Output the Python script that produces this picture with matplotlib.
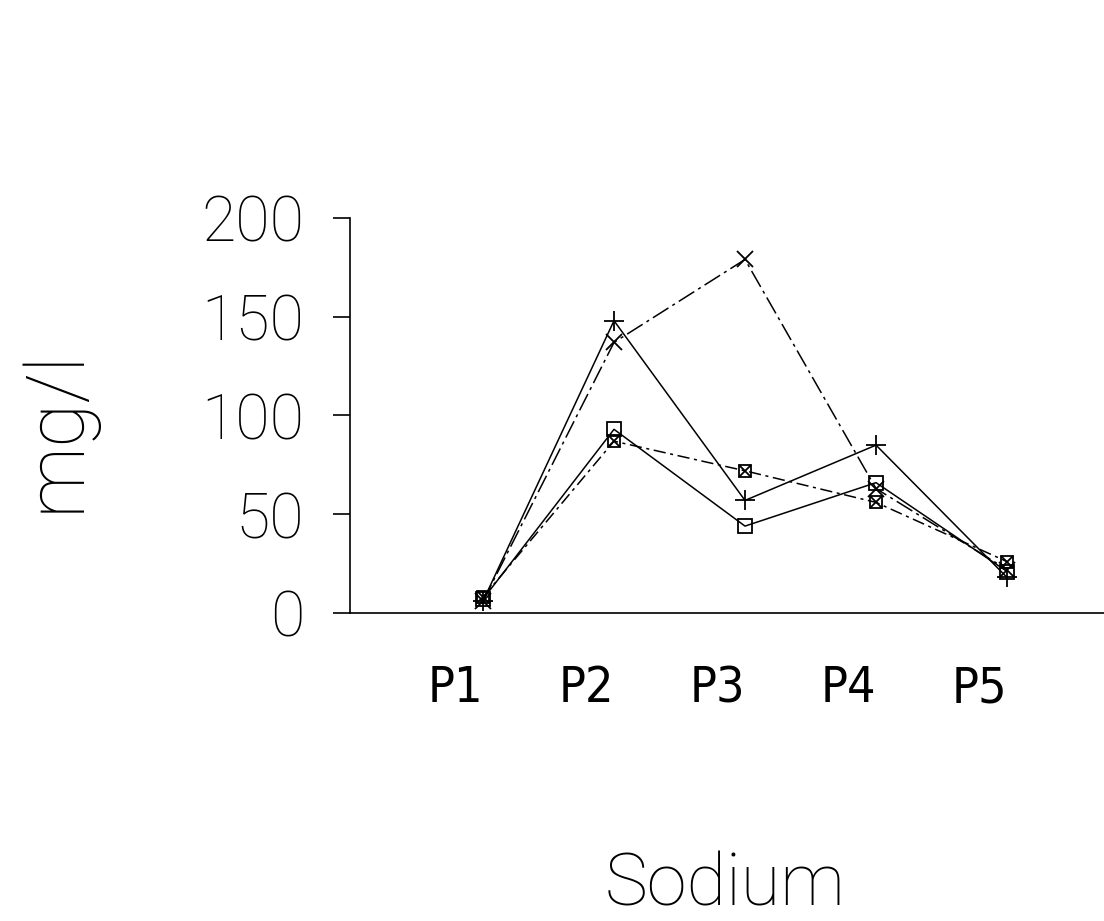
import matplotlib
matplotlib.use("Agg")
import matplotlib.pyplot as plt

categories = ["P1", "P2", "P3", "P4", "P5"]
series_square = [7, 93, 44, 66, 21]
series_plus = [6, 148, 57, 85, 18]
series_xbox = [8, 87, 72, 56, 26]
series_x = [6, 137, 179, 63, 22]
yticks = [0, 50, 100, 150, 200]

LIGHT = ["Roboto", "DejaVu Sans"]

fig = plt.figure(figsize=(11.04, 9.21), dpi=100)
W, H = 1104, 921
ax = fig.add_axes([350 / W, (H - 613) / H, (W - 350) / W, (613 - 218) / H])

xs = list(range(1, len(categories) + 1))
lw = 1.1
ax.plot(xs, series_plus, color="black", lw=lw, ls="-", marker="+", ms=14, mew=1.3)
ax.plot(xs, series_x, color="black", lw=lw, ls=(0, (12, 3, 2, 3)), marker="x", ms=12, mew=1.3)
ax.plot(xs, series_square, color="black", lw=lw, ls="-", marker="s", ms=10, mfc="none", mew=1.3)
ax.plot(xs, series_xbox, color="black", lw=lw, ls=(0, (8, 3, 2, 3)), marker="s", ms=9, mfc="none", mew=1.3)
ax.plot(xs, series_xbox, color="black", lw=0, marker="x", ms=8, mew=1.3)

ax.set_xlim(-0.015, 5.74)
ax.set_ylim(0, 200)
for s in ["top", "right"]:
    ax.spines[s].set_visible(False)
ax.spines["left"].set_linewidth(1.2)
ax.spines["bottom"].set_linewidth(1.2)

ax.set_yticks(yticks)
ax.set_yticklabels([str(v) for v in yticks], family=LIGHT, fontweight="light", fontsize=45)
ax.tick_params(axis="y", direction="out", length=12, width=1.2, pad=21)

ax.set_xticks(xs)
ax.set_xticklabels(categories, family=["DejaVu Sans", "Noto Sans"], fontsize=36, fontweight="ultralight",
                   ha="right", fontstretch="condensed")
ax.tick_params(axis="x", length=0, pad=37)

fig.text(725 / W, 1 - 920 / H, "Sodium", family=LIGHT, fontweight="light",
         fontsize=52, ha="center", va="bottom")
fig.text(56 / W, 1 - 430 / H, "mg/l", family=LIGHT, fontweight="light",
         fontsize=58, ha="center", va="center", rotation=90)

fig.savefig("out.png", dpi=100)
